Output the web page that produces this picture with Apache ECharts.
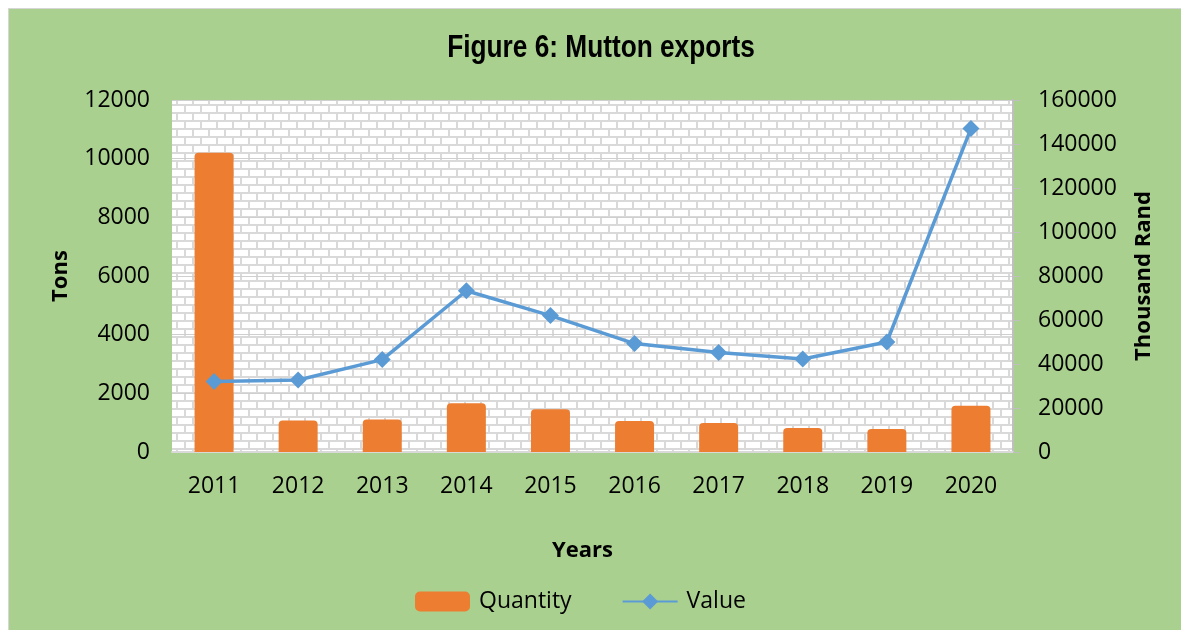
<!DOCTYPE html>
<html>
<head>
<meta charset="utf-8">
<script src="https://cdn.jsdelivr.net/npm/echarts@6/dist/echarts.min.js"></script>
<style>
  html, body { margin: 0; padding: 0; background: #ffffff; }
  #wrap { position: relative; width: 1181px; height: 630px; overflow: hidden; }
  #bg { position: absolute; left: 8px; top: 8px; right: 0; bottom: 0;
        background: #a9d08e; border-left: 1px solid #d6d6d6; border-top: 1px solid #d6d6d6; }
  #chart { position: absolute; left: 0; top: 0; width: 1181px; height: 630px; }
</style>
</head>
<body>
<div id="wrap">
  <div id="bg"></div>
  <div id="chart"></div>
</div>
<script>
// data
const years = ['2011', '2012', '2013', '2014', '2015', '2016', '2017', '2018', '2019', '2020'];
const quantityTons = [10200, 1070, 1110, 1660, 1460, 1060, 990, 820, 780, 1580];
const valueThousandRand = [32000, 32700, 42000, 73300, 62000, 49300, 45200, 42300, 50000, 147000];
const leftTicks = { min: 0, max: 12000, interval: 2000 };
const rightTicks = { min: 0, max: 160000, interval: 20000 };

// brick texture for the plot area
function brickTile() {
    const c = document.createElement('canvas');
    c.width = 16;
    c.height = 16;
    const g = c.getContext('2d');
    g.fillStyle = '#ffffff';
    g.fillRect(0, 0, 16, 16);
    g.fillStyle = '#d9d9d9';
    g.fillRect(0, 0, 16, 2);
    g.fillRect(0, 8, 16, 2);
    g.fillRect(0, 2, 2, 6);
    g.fillRect(8, 10, 2, 6);
    return c;
}

const labelFont = '"Open Sans", "Noto Sans", sans-serif';
const plainNumber = (v) => String(v);
const chart = echarts.init(document.getElementById('chart'), null, { renderer: 'canvas' });

chart.setOption({
    backgroundColor: 'transparent',
    animation: false,
    // title is drawn as graphic text so it can be narrowed like Arial Narrow
    graphic: [{
        type: 'text',
        x: 601,
        y: 48,
        scaleX: 0.82,
        style: {
            text: 'Figure 6: Mutton exports',
            fontFamily: '"Liberation Sans", Arial, sans-serif',
            fontWeight: 'bold',
            fontSize: 32,
            fill: '#000000',
            align: 'center',
            verticalAlign: 'middle'
        }
    }],
    grid: {
        left: 172,
        right: 168,
        top: 100,
        bottom: 178,
        show: true,
        borderWidth: 0,
        backgroundColor: { image: brickTile(), repeat: 'repeat' }
    },
    legend: {
        left: 410,
        top: 585,
        itemWidth: 55,
        itemHeight: 20,
        itemGap: 50,
        textStyle: { fontFamily: labelFont, fontSize: 23, color: '#000000', padding: [0, 0, 0, 4] },
        data: ['Quantity', 'Value']
    },
    xAxis: {
        type: 'category',
        data: years,
        name: 'Years',
        nameLocation: 'middle',
        nameGap: 88,
        nameTextStyle: { fontFamily: labelFont, fontWeight: 'bold', fontSize: 22, color: '#000000', padding: [0, 20, 0, 0] },
        axisLine: { lineStyle: { color: '#d9d9d9', width: 2 } },
        axisTick: { show: false },
        axisLabel: { fontFamily: labelFont, fontSize: 23, color: '#000000', margin: 23 }
    },
    yAxis: [
        {
            type: 'value',
            min: leftTicks.min,
            max: leftTicks.max,
            interval: leftTicks.interval,
            name: 'Tons',
            nameLocation: 'middle',
            nameGap: 100,
            nameTextStyle: { fontFamily: labelFont, fontWeight: 'bold', fontSize: 22, color: '#000000' },
            axisLine: { show: false },
            axisTick: { show: false },
            axisLabel: { fontFamily: labelFont, fontSize: 23, color: '#000000', margin: 22, formatter: plainNumber },
            splitLine: { show: true, lineStyle: { color: '#cfcfcf', width: 1 } }
        },
        {
            type: 'value',
            min: rightTicks.min,
            max: rightTicks.max,
            interval: rightTicks.interval,
            name: 'Thousand Rand',
            nameLocation: 'middle',
            nameGap: 120,
            nameTextStyle: { fontFamily: labelFont, fontWeight: 'bold', fontSize: 22, color: '#000000' },
            axisLine: { show: true, lineStyle: { color: '#bfbfbf', width: 2 } },
            axisTick: { show: true, length: 7, lineStyle: { color: '#bfbfbf', width: 1 } },
            axisLabel: { fontFamily: labelFont, fontSize: 23, color: '#000000', margin: 25, formatter: plainNumber },
            splitLine: { show: false }
        }
    ],
    series: [
        {
            name: 'Quantity',
            type: 'bar',
            yAxisIndex: 0,
            data: quantityTons,
            barWidth: 39,
            itemStyle: { color: '#ed7d31', borderRadius: [4, 4, 0, 0] }
        },
        {
            name: 'Value',
            type: 'line',
            yAxisIndex: 1,
            data: valueThousandRand,
            symbol: 'diamond',
            symbolSize: 17,
            lineStyle: { color: '#5b9bd5', width: 3.5 },
            itemStyle: { color: '#5b9bd5' }
        }
    ]
});
</script>
</body>
</html>
